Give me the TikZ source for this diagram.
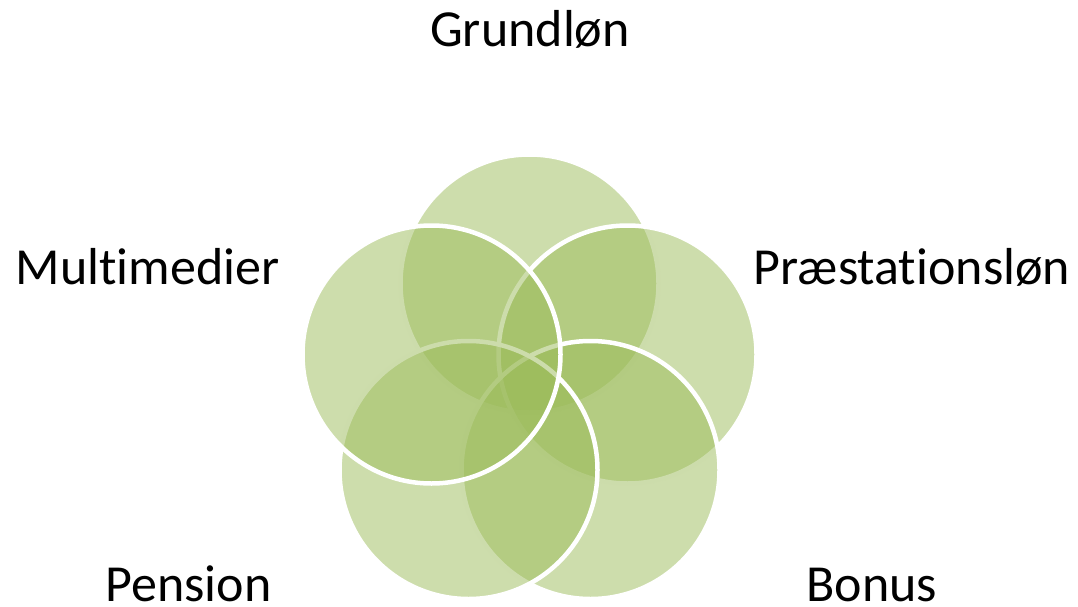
\documentclass[tikz,border=0pt]{standalone}
\usepackage{fontspec}
\setmainfont{Carlito}[Ligatures=NoCommon]
\definecolor{venngreen}{HTML}{9BBB59}
\begin{document}
\begin{tikzpicture}[x=1pt,y=-1pt,
  venn/.style={circle, minimum size=258pt, inner sep=0pt, fill=venngreen, fill opacity=0.5, draw=white, draw opacity=1, line width=4.5pt},
  lbl/.style={inner sep=0pt, anchor=base, font=\fontsize{52}{62}\selectfont, text=black},
  lowlbl/.style={lbl, text depth=0pt}]
\useasboundingbox (0,0) rectangle (1078,607);
\node[venn] (c1) at (529.5,283.5) {};
\node[venn] (c2) at (627.5,354.5) {};
\node[venn] (c3) at (590.5,470) {};
\node[venn] (c4) at (468.5,470) {};
\node[venn] (c5) at (431.5,354.5) {};
\node[lbl] (t1) at (530,47) {Grundløn};
\node[lbl] (t2) at (912,284) {Præstationsløn};
\node[lowlbl] (t3) at (872,601) {Bonus};
\node[lowlbl] (t4) at (188.5,601) {Pension};
\node[lbl] (t5) at (147.5,284) {Multimedier};
\end{tikzpicture}
\end{document}
